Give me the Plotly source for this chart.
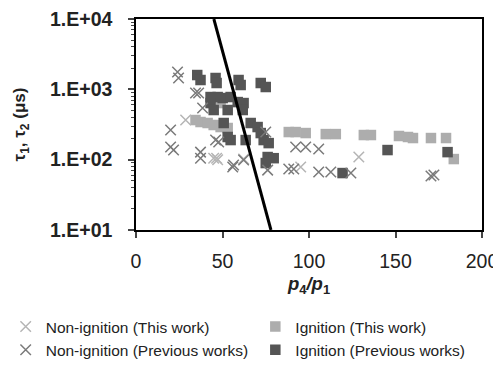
import plotly.graph_objects as go

# Ignition (This work) - light squares
ign_this_x = [37.3, 41.4, 44.9, 48.9, 53.0, 48.9, 34.4, 88.3, 92.3, 98.1, 109.7, 115.5,
              131.7, 135.8, 152.0, 157.2, 160.1, 170.5, 179.2, 183.7]
ign_this_y = [343, 332, 311, 291, 282, 638, 366, 247, 247, 239, 231, 231,
              224, 224, 217, 210, 203, 203, 203, 102]

# Ignition (Previous works) - dark squares
ign_prev_x = [35.4, 37.3, 46.0, 46.6, 59.3, 60.5, 72.1, 75.0,
              43.1, 47.2, 43.1, 50.1, 54.7, 58.8, 62.2, 44.9, 53.0, 61.7,
              50.7, 53.0, 66.3, 70.3, 72.1, 73.8, 76.7, 63.4, 54.7,
              76.1, 79.6, 75.0, 145.4, 180.1, 119.4]
ign_prev_y = [1597, 1357, 1449, 1230, 1357, 1152, 1230, 1079,
              777, 777, 638, 752, 777, 659, 638, 508, 508, 508,
              332, 210, 332, 291, 239, 190, 172, 190, 190,
              109, 105, 89.5, 137, 128, 64.5]

# Non-ignition (This work) - light X
non_this_x = [28.7, 44.9, 46.6, 47.2, 128.8, 95.2, 62.2]
non_this_y = [366, 105, 105, 100, 109, 78.5, 102]

# Non-ignition (Previous works) - dark X
non_prev_x = [24.0, 24.6, 34.4, 36.2, 38.5, 20.0, 20.0, 21.7, 37.3, 37.3, 46.0, 47.8,
              55.9, 62.2, 75.0, 92.3, 98.1, 105.6, 88.3, 91.2, 105.6, 112.6, 124.2,
              170.5, 172.2, 56.4, 76.1]
non_prev_y = [1763, 1449, 886, 886, 542, 264, 151, 137, 128, 105, 190, 178,
              78.5, 99, 247, 151, 151, 142, 73.5, 73.5, 66.6, 66.6, 64.5,
              58.5, 60.4, 84, 71]

# Boundary line
line_x = [45, 78]
line_y = [1e4, 1e1]

x_ticks = [0, 50, 100, 150, 200]
y_ticks = [10, 100, 1000, 10000]
y_tick_labels = ["1.E+01", "1.E+02", "1.E+03", "1.E+04"]

fig = go.Figure()
fig.add_trace(go.Scatter(x=ign_this_x, y=ign_this_y, mode="markers", name="Ignition (This work)",
                         marker=dict(symbol="square", size=10.5, color="#adadad"),
                         legend="legend2", legendrank=1))
fig.add_trace(go.Scatter(x=ign_prev_x, y=ign_prev_y, mode="markers", name="Ignition (Previous works)",
                         marker=dict(symbol="square", size=10.5, color="#555555"),
                         legend="legend2", legendrank=2))
fig.add_trace(go.Scatter(x=non_this_x, y=non_this_y, mode="markers", name="Non-ignition (This work)",
                         marker=dict(symbol="x-thin", size=10.5, line=dict(width=1.5, color="#b5b5b5")),
                         legend="legend", legendrank=1))
fig.add_trace(go.Scatter(x=non_prev_x, y=non_prev_y, mode="markers", name="Non-ignition (Previous works)",
                         marker=dict(symbol="x-thin", size=10.5, line=dict(width=1.5, color="#7a7a7a")),
                         legend="legend", legendrank=2))
fig.add_trace(go.Scatter(x=line_x, y=line_y, mode="lines", line=dict(color="black", width=3),
                         showlegend=False, cliponaxis=True))

# the page body has an 8px margin, so the figure is sized/offset to compensate
W, H = 493, 362
L, R, T, B = 127.5, 19, 11, 140
pw, ph = W - L - R, H - T - B

tickfont = dict(family="Liberation Sans", size=19.5, color="#222222")
legfont = dict(family="Liberation Sans", size=15.5, color="#222222")
leg_y = (ph - (302 - T)) / ph
fig.update_layout(
    width=W, height=H,
    margin=dict(l=L, r=R, t=T, b=B, autoexpand=False),
    plot_bgcolor="white", paper_bgcolor="white",
    font=dict(family="Liberation Sans", color="#222222"),
    xaxis=dict(range=[0, 200], tickvals=x_ticks, ticks="outside", ticklen=6, tickwidth=1.5,
               showline=True, linecolor="black", linewidth=1.5, mirror=True, showgrid=False,
               zeroline=False, tickfont=tickfont, ticklabelstandoff=7, automargin=False,
               ticklabeloverflow="allow",
               tickprefix="<b>", ticksuffix="</b>",
               title=dict(text="<b><i>p</i><sub>4</sub><i>/p</i><sub>1</sub></b>",
                          font=dict(family="Liberation Sans", size=18.5), standoff=6)),
    yaxis=dict(type="log", range=[1, 4], tickvals=y_ticks,
               ticktext=["<b>" + t + "</b>" for t in y_tick_labels],
               ticks="outside", ticklen=6, tickwidth=1.5, automargin=False,
               ticklabeloverflow="allow",
               showline=True, linecolor="black", linewidth=1.5, mirror=True, showgrid=False,
               zeroline=False, tickfont=tickfont, ticklabelstandoff=12,
               minor=dict(ticks="outside", ticklen=3, tickwidth=1, dtick="D1", showgrid=False),
               title=dict(text="<b>τ<sub>1</sub>, τ<sub>2</sub> (μs)</b>",
                          font=dict(family="Liberation Sans", size=17), standoff=20)),
    legend=dict(orientation="v", xref="paper", yref="paper",
                x=(-3 - L) / pw, y=leg_y, xanchor="left", yanchor="top",
                font=legfont, tracegroupgap=0, bgcolor="rgba(0,0,0,0)"),
    legend2=dict(orientation="v", xref="paper", yref="paper",
                 x=(247 - L) / pw, y=leg_y, xanchor="left", yanchor="top",
                 font=legfont, tracegroupgap=0, bgcolor="rgba(0,0,0,0)"),
)
fig.write_html("out.html")
